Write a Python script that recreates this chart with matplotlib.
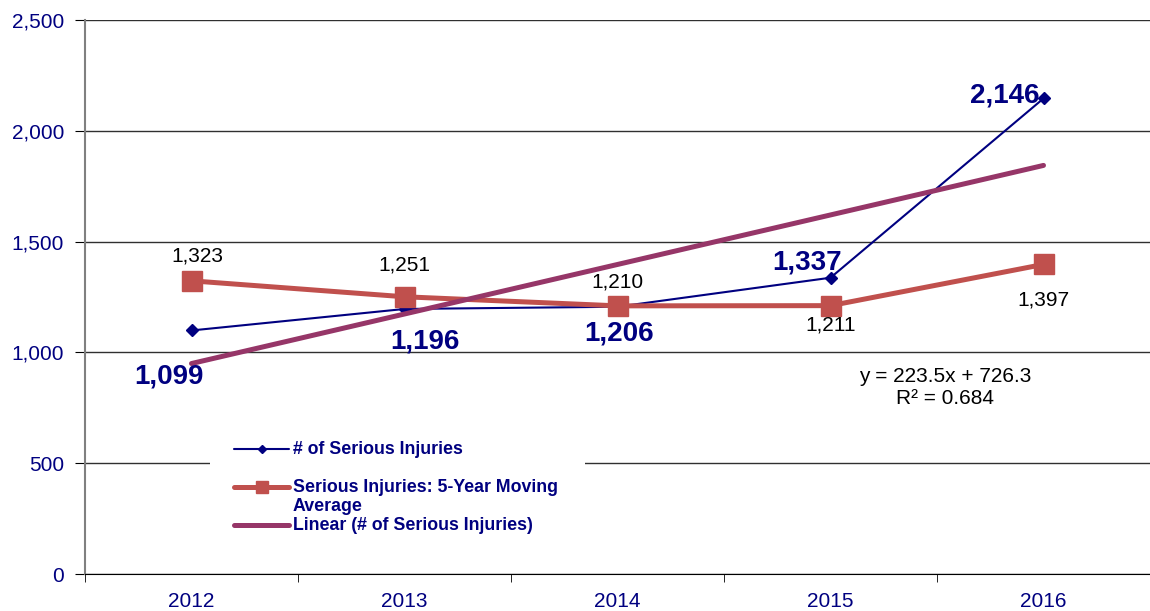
import numpy as np
import matplotlib
matplotlib.use('Agg')
import matplotlib.pyplot as plt
from matplotlib.ticker import FuncFormatter, FixedLocator
from matplotlib.lines import Line2D
from matplotlib.patches import Rectangle

plt.rcParams['font.family'] = ['Liberation Sans', 'DejaVu Sans']

# data
years = ['2012', '2013', '2014', '2015', '2016']
injuries = [1099, 1196, 1206, 1337, 2146]
moving_avg = [1323, 1251, 1210, 1211, 1397]

# label offsets in pixels (dx, dy) for each point
inj_offsets = [(-23, -46), (20, -33), (2, -27), (-23, 15), (-39, 3)]
ma_offsets = [(6, 25), (0, 32), (0, 24), (0, -19), (0, -36)]

navy = '#000080'
red = '#C0504D'
purple = '#963668'

x = np.arange(len(years))
# linear trend (Excel uses x = 1..n)
slope, intercept = np.polyfit(x + 1, injuries, 1)
trend = slope * (x + 1) + intercept

W, H = 1150, 611
fig = plt.figure(figsize=(W / 100, H / 100), dpi=100)
ax = fig.add_axes([85 / W, 37 / H, 1065 / W, 554 / H])


def px(xp, yp):
    # pixel position in the image -> axes fraction
    return (xp - 85) / 1065, (574 - yp) / 554


ax.plot(x, injuries, color=navy, lw=1.5, marker='D', ms=6, zorder=3)
ax.plot(x, moving_avg, color=red, lw=3.6, marker='s', ms=14, zorder=4)
ax.plot(x, trend, color=purple, lw=3.6, solid_capstyle='round', zorder=5)

# data labels
for xi, v, (dx, dy) in zip(x, injuries, inj_offsets):
    ax.annotate(f'{v:,}', (xi, v), xytext=(dx, dy), textcoords='offset pixels',
                ha='center', va='center', fontsize=20, fontweight='bold',
                color=navy, zorder=6)
for xi, v, (dx, dy) in zip(x, moving_avg, ma_offsets):
    ax.annotate(f'{v:,}', (xi, v), xytext=(dx, dy), textcoords='offset pixels',
                ha='center', va='center', fontsize=15, color='black', zorder=6)

# trendline equation
ax.text(*px(945, 387.5), f'y = {slope:.1f}x + {intercept:.1f}\nR² = 0.684',
        transform=ax.transAxes, ha='center', va='center', fontsize=15,
        linespacing=1.15, color='black')

# legend drawn by hand to follow the original's row spacing
x0, y0 = px(210, 545)
x1, y1 = px(585, 425)
ax.add_patch(Rectangle((x0, y0), x1 - x0, y1 - y0, transform=ax.transAxes,
                       facecolor='white', edgecolor='none', zorder=7))
hx = [px(234, 0)[0], px(289, 0)[0]]
legend_rows = [
    # (handle y, colour, line width, marker, marker size, label, text y)
    (449, navy, 1.5, 'D', 4.5, '# of Serious Injuries', 449),
    (487, red, 3.6, 's', 8, 'Serious Injuries: 5-Year Moving\nAverage', 497),
    (525, purple, 3.6, None, 0, 'Linear (# of Serious Injuries)', 525),
]
for hy, col, lw, mk, ms, label, ty in legend_rows:
    yy = px(0, hy)[1]
    ax.add_line(Line2D(hx, [yy, yy], transform=ax.transAxes, color=col, lw=lw,
                       solid_capstyle='round', zorder=8))
    if mk:
        ax.add_line(Line2D([sum(hx) / 2], [yy], transform=ax.transAxes,
                           color=col, marker=mk, ms=ms, lw=0, zorder=9))
    ax.text(px(293, 0)[0], px(0, ty)[1], label, transform=ax.transAxes,
            ha='left', va='center', fontsize=12.8, fontweight='bold',
            color=navy, linespacing=1.12, zorder=9)

# axes styling
ax.set_xlim(-0.5, 4.5)
ax.set_ylim(0, 2500)
ax.set_yticks(np.arange(0, 2501, 500))
ax.yaxis.set_major_formatter(FuncFormatter(lambda v, p: f'{int(v):,}'))
ax.set_xticks(x)
ax.set_xticklabels(years)
ax.xaxis.set_minor_locator(FixedLocator(np.arange(-0.5, 4.6, 1)))
ax.tick_params(axis='x', which='major', length=0, pad=13, labelsize=15, labelcolor=navy)
ax.tick_params(axis='x', which='minor', length=6, color='black')
ax.tick_params(axis='y', length=7, labelsize=15, labelcolor=navy, color='black', pad=8)
ax.grid(axis='y', color='#303030', lw=1, zorder=0)
ax.set_axisbelow(True)
for s in ['top', 'right']:
    ax.spines[s].set_visible(False)
ax.spines['left'].set_color('#808080')
ax.spines['left'].set_linewidth(1.5)
ax.spines['bottom'].set_color('black')

fig.savefig('out.png', dpi=100)
